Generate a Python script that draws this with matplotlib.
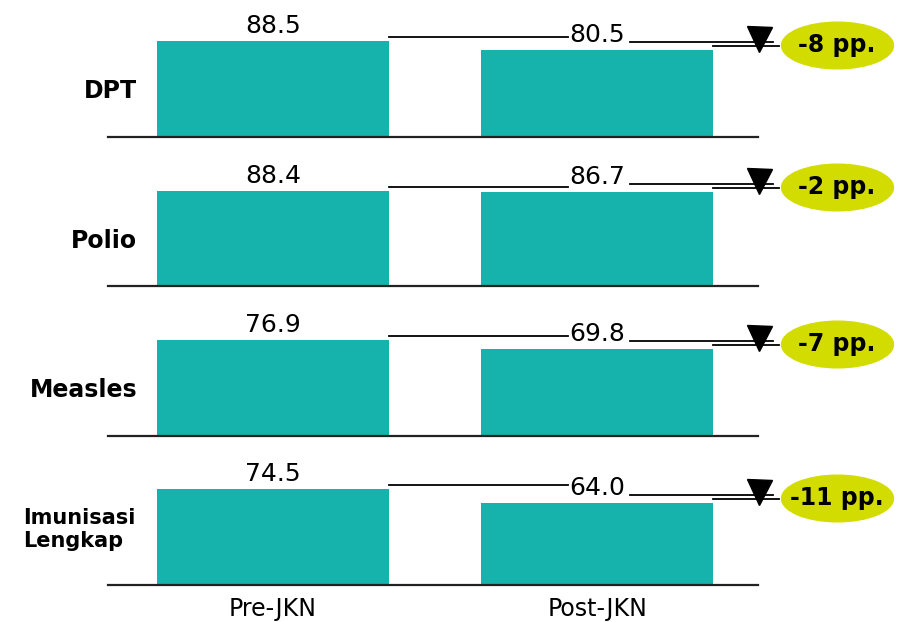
import matplotlib
matplotlib.use("Agg")
import matplotlib.pyplot as plt
from matplotlib.path import Path
from matplotlib.transforms import Affine2D, offset_copy

# data
rows = ['DPT', 'Polio', 'Measles', 'Imunisasi\nLengkap']
periods = ['Pre-JKN', 'Post-JKN']
pre = [88.5, 88.4, 76.9, 74.5]
post = [80.5, 86.7, 69.8, 64.0]
change = ['-8 pp.', '-2 pp.', '-7 pp.', '-11 pp.']

teal = '#16B2AC'
lime = '#D3DC00'

fig = plt.figure(figsize=(8.99, 6.22), dpi=100)

# wide oval used as a marker behind the change labels
oval = Path.unit_circle().transformed(Affine2D().scale(2.4, 1))

def shift(ax, dy):
    # data transform moved up by dy pixels
    return offset_copy(ax.transData, fig=fig, x=0, y=dy, units='dots')

w = 0.715
for i in range(len(rows)):
    ax = fig.add_axes([0.1201, 0.7802 - i * 0.2402, 0.723, 0.1929])
    ax.bar([0, 1], [pre[i], post[i]], width=w, color=teal)
    ax.set_xlim(-0.508, 1.495)
    ax.set_ylim(0, pre[i] * 120 / 95.5)

    for s in ['top', 'left', 'right']:
        ax.spines[s].set_visible(False)
    ax.spines['bottom'].set_color('#222222')
    ax.spines['bottom'].set_linewidth(1.6)
    ax.set_yticks([])
    if i == len(rows) - 1:
        ax.set_xticks([0, 1], periods, fontsize=17)
        ax.tick_params(axis='x', length=0, pad=9)
    else:
        ax.set_xticks([])

    # value labels
    ax.text(0, pre[i], f'{pre[i]:.1f}', transform=shift(ax, 8),
            ha='center', va='baseline', fontsize=18)
    ax.text(1, post[i], f'{post[i]:.1f}', transform=shift(ax, 8),
            ha='center', va='baseline', fontsize=18)

    # connector lines
    ax.plot([w / 2, 0.909], [pre[i], pre[i]], transform=shift(ax, 4),
            color='black', lw=1.3, clip_on=False)
    ax.plot([1.10, 1.541], [post[i], post[i]], transform=shift(ax, 8),
            color='black', lw=1.3, clip_on=False)
    ax.plot([1 + w / 2, 1.559], [post[i], post[i]], transform=shift(ax, 4),
            color='black', lw=1.3, clip_on=False)
    ax.plot(1.498, post[i], marker='v', ms=18, color='black',
            transform=shift(ax, 11), clip_on=False)

    # change badge
    ax.plot(1.738, post[i], marker=oval, ms=80.6, color=lime, ls='none',
            transform=shift(ax, 5), clip_on=False)
    ax.text(1.738, post[i], change[i], transform=shift(ax, 5),
            ha='center', va='center', fontsize=17, fontweight='bold')

    two_line = '\n' in rows[i]
    ax.set_ylabel(rows[i], rotation=0, ha='right', va='center',
                  multialignment='left', fontweight='bold',
                  fontsize=15 if two_line else 17)
    ax.yaxis.set_label_coords(0.042 if two_line else 0.045,
                              0.46 if two_line else 0.38)

fig.savefig('out.png', dpi=100)
